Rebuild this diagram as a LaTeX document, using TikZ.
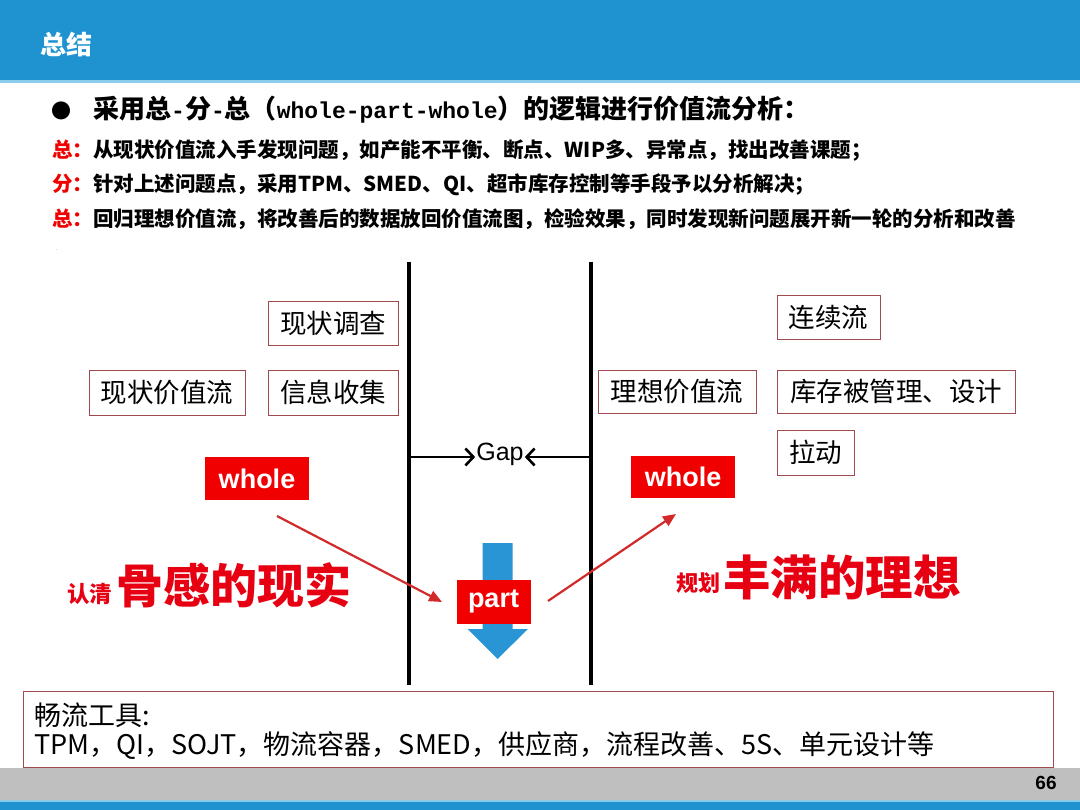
\documentclass[tikz,border=0pt]{standalone}
\usepackage{fontspec}
\setmainfont{Noto Sans CJK SC}
\newfontfamily\cjk{Noto Sans CJK SC}
\newfontfamily\monof{Liberation Mono}
\newfontfamily\arialf{Liberation Sans}
\usetikzlibrary{arrows.meta}
\definecolor{topblue}{HTML}{1E93D0}
\definecolor{lightblue}{HTML}{8CCBEB}
\definecolor{boxred}{HTML}{A04A50}
\definecolor{hotred}{HTML}{F00000}
\definecolor{bigred}{HTML}{E60012}
\definecolor{arrred}{HTML}{D22A2A}
\definecolor{partblue}{HTML}{2A95D5}
\definecolor{barGray}{HTML}{BFBFBF}
\newcommand{\fs}[1]{\fontsize{#1}{#1}\selectfont}
\tikzset{
  tbox/.style={draw=boxred, line width=0.9pt, inner sep=0pt, font=\cjk\fs{26.5}, text=black},
  redtag/.style={fill=hotred, inner sep=0pt, text=white, font=\arialf\bfseries\fs{27}},
  hdr/.style={anchor=west, inner sep=0pt, font=\cjk\bfseries\fs{20.5}},
  redarrow/.style={draw=arrred, line width=2.2pt, -{Triangle[length=13pt,width=11pt]}},
  gaparrow/.style={line width=2.6pt, -{Straight Barb[length=8pt,width=17pt]}}
}
\begin{document}
\begin{tikzpicture}[x=1pt,y=-1pt]
\useasboundingbox (0,0) rectangle (1080,810);
% header
\fill[topblue] (0,0) rectangle (1080,80.5);
\fill[lightblue] (0,80.5) rectangle (1080,83);
\node[anchor=west, inner sep=0pt, text=white, font=\cjk\bfseries\fs{26}] (title) at (40,45) {总结};
% bullet line
\node[anchor=center, inner sep=0pt, font=\cjk\fs{20}] (bullet) at (61,111) {●};
\node[anchor=west, inner sep=0pt, font=\cjk\bfseries\fs{26}] (intro) at (93,110)
  {采用总{\monof\bfseries\fs{23}-}分{\monof\bfseries\fs{23}-}总（{\monof\bfseries\fs{23}whole-part-whole}）的逻辑进行价值流分析：};
\node[hdr] (l1) at (52,151) {{\color{hotred}总：}从现状价值流入手发现问题，如产能不平衡、断点、WIP多、异常点，找出改善课题；};
\node[hdr] (l2) at (52,185) {{\color{hotred}分：}针对上述问题点，采用TPM、SMED、QI、超市库存控制等手段予以分析解决；};
\node[hdr] (l3) at (52,219) {{\color{hotred}总：}回归理想价值流，将改善后的数据放回价值流图，检验效果，同时发现新问题展开新一轮的分析和改善};
\node[inner sep=0pt, text=gray, font=\fs{6}] (dot) at (57,250) {.};
% vertical lines
\coordinate (vl1) at (409,262); \coordinate (vl2) at (409,685);
\coordinate (vr1) at (591,262); \coordinate (vr2) at (591,685);
\draw[line width=4pt] (vl1) -- (vl2);
\draw[line width=4pt] (vr1) -- (vr2);
% left boxes
\node[tbox, minimum width=130pt, minimum height=44pt] (xzdc) at (333,323) {现状调查};
\node[tbox, minimum width=156pt, minimum height=45pt] (xzjzl) at (167,392.5) {现状价值流};
\node[tbox, minimum width=130pt, minimum height=45pt] (xxsj) at (333,392.5) {信息收集};
% right boxes
\node[tbox, minimum width=103pt, minimum height=44pt] (lxl) at (828.5,317) {连续流};
\node[tbox, minimum width=158pt, minimum height=43pt] (lxjzl) at (677,391.5) {理想价值流};
\node[tbox, minimum width=238pt, minimum height=43pt] (kc) at (896,391.5) {库存被管理、设计};
\node[tbox, minimum width=77pt, minimum height=45pt] (ld) at (815.5,452.5) {拉动};
% gap
\node[inner sep=1pt, font=\arialf\fs{25}] (gap) at (500,454) {Gap};
\coordinate (gl) at (411,457);
\coordinate (gr) at (589,457);
\draw[gaparrow] (gl) -- (gap.west |- gl);
\draw[gaparrow] (gr) -- (gap.east |- gr);
% whole tags
\node[redtag, minimum width=104pt, minimum height=43pt] (wholeL) at (257,478.5) {whole};
\node[redtag, minimum width=104pt, minimum height=42pt] (wholeR) at (683,477) {whole};
% part arrow
\fill[partblue] (482.5,543) -- (512.5,543) -- (512.5,629) -- (528,629) -- (497.5,659) -- (467.5,629) -- (482.5,629) -- cycle;
\node[redtag, minimum width=74pt, minimum height=44pt] (part) at (493.5,601.5) {part};
% red arrows
\coordinate (raS) at (277,516);
\coordinate (raE) at (442,602);
\coordinate (rbS) at (548,601);
\coordinate (rbE) at (676,514);
\draw[redarrow] (raS) -- (raE);
\draw[redarrow] (rbS) -- (rbE);
% big slogans
\node[anchor=west, inner sep=0pt, text=bigred, font=\cjk\bfseries\fs{22.5}] (rq) at (67,594) {认清};
\node[anchor=west, inner sep=0pt, text=bigred, font=\cjk\bfseries\fs{47}] (ggxs) at (116,585) {骨感的现实};
\node[anchor=west, inner sep=0pt, text=bigred, font=\cjk\bfseries\fs{22}] (gh) at (676,583) {规划};
\node[anchor=west, inner sep=0pt, text=bigred, font=\cjk\bfseries\fs{47.5}] (fmlx) at (723,577) {丰满的理想};
% tools box
\node[draw=boxred, line width=0.9pt, minimum width=1030pt, minimum height=76pt, inner sep=0pt] (tools) at (538,729) {};
\node[anchor=west, inner sep=0pt, font=\cjk\fs{27}] (tt1) at (34,715) {畅流工具:};
\node[anchor=west, inner sep=0pt, font=\cjk\fs{27}] (tt2) at (34,746) {TPM，QI，SOJT，物流容器，SMED，供应商，流程改善、5S、单元设计等};
% footer
\fill[barGray] (0,767.5) rectangle (1080,800);
\fill[lightblue] (0,800) rectangle (1080,802);
\fill[topblue] (0,802) rectangle (1080,810);
\node[inner sep=0pt, font=\arialf\bfseries\fs{19}] (pg) at (1046,783) {66};
\end{tikzpicture}
\end{document}
